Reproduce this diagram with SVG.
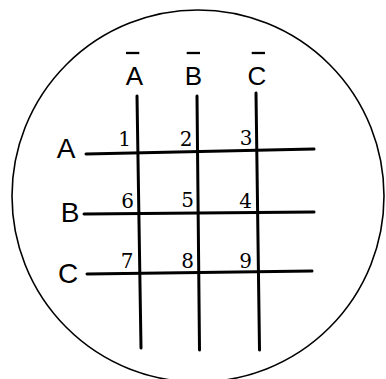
<svg xmlns="http://www.w3.org/2000/svg" width="386" height="379" viewBox="0 0 386 379">
<style>
.bg{fill:#fff}
.ring{fill:none;stroke:#000;stroke-width:1.6}
.wire{stroke:#000;stroke-width:3;stroke-linecap:round;fill:none}
.bar{stroke:#000;stroke-width:2.3;stroke-linecap:butt}
.lbl{font-family:"Liberation Sans",Arial,sans-serif;font-size:28px;fill:#000;text-anchor:middle}
.top{font-family:"Liberation Sans",Arial,sans-serif;font-size:26px;fill:#000;text-anchor:middle}
.num{font-family:"DejaVu Serif","Liberation Serif",serif;font-size:20px;fill:#000;text-anchor:middle}
</style>
<rect class="bg" x="0" y="0" width="386" height="379"/>
<circle class="ring" cx="198" cy="196" r="186"/>
<g id="connectors">
  <line class="wire" x1="137" y1="96" x2="141" y2="348"/>
  <line class="wire" x1="197" y1="96" x2="199.5" y2="350"/>
  <line class="wire" x1="256" y1="93" x2="259.5" y2="350"/>
  <line class="wire" x1="86" y1="154" x2="314" y2="149"/>
  <line class="wire" x1="84" y1="214" x2="314" y2="212"/>
  <line class="wire" x1="87" y1="274" x2="312" y2="271"/>
</g>
<g id="col-Abar"><text class="top" x="134.5" y="85">A</text><line class="bar" x1="126" y1="53" x2="139.3" y2="53"/></g>
<g id="col-Bbar"><text class="top" x="193.5" y="85">B</text><line class="bar" x1="186.7" y1="53" x2="200" y2="53"/></g>
<g id="col-Cbar"><text class="top" x="257" y="85">C</text><line class="bar" x1="251.7" y1="53" x2="265" y2="53"/></g>
<g id="row-A"><text class="lbl" x="66" y="158">A</text></g>
<g id="row-B"><text class="lbl" x="70" y="222">B</text></g>
<g id="row-C"><text class="lbl" x="68" y="283">C</text></g>
<g id="n1"><text class="num" x="124.5" y="146">1</text></g>
<g id="n2"><text class="num" x="186" y="146">2</text></g>
<g id="n3"><text class="num" x="246" y="145">3</text></g>
<g id="n6"><text class="num" x="127.5" y="208">6</text></g>
<g id="n5"><text class="num" x="187.5" y="207">5</text></g>
<g id="n4"><text class="num" x="245.5" y="208">4</text></g>
<g id="n7"><text class="num" x="127" y="268">7</text></g>
<g id="n8"><text class="num" x="187.5" y="268">8</text></g>
<g id="n9"><text class="num" x="245.5" y="268">9</text></g>
</svg>
